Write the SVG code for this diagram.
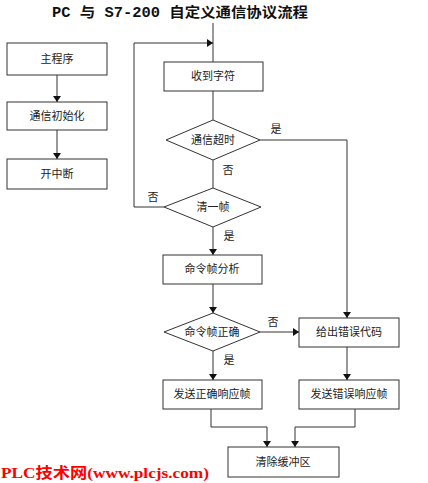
<svg xmlns="http://www.w3.org/2000/svg" width="428" height="483" viewBox="0 0 428 483">
<style>
.box{fill:#fff;stroke:#333;stroke-width:1}
.lbl{font-family:"Noto Sans CJK SC","Noto Sans",sans-serif;font-size:11px;fill:#222;text-anchor:middle}
.yn{font-family:"Noto Sans CJK SC","Noto Sans",sans-serif;font-size:11px;fill:#222;text-anchor:middle}
.ln{fill:none;stroke:#333;stroke-width:1}
</style>
<defs>
<marker id="ah" markerWidth="6" markerHeight="8" refX="6" refY="4" orient="auto" markerUnits="userSpaceOnUse">
<path d="M0,0 L6,4 L0,8 Z" fill="#111"/>
</marker>
</defs>
<rect width="428" height="483" fill="#fff"/>
<text x="52" y="17" textLength="256" lengthAdjust="spacingAndGlyphs" style="font-family:'Liberation Mono','Noto Sans CJK SC',monospace;font-size:14px;font-weight:bold;fill:#111">PC 与 S7-200 自定义通信协议流程</text>

<g id="connectors">
<path class="ln" d="M57,75 V102" marker-end="url(#ah)"/>
<path class="ln" d="M57,130 V159" marker-end="url(#ah)"/>
<path class="ln" d="M213,23 V62"/>
<path class="ln" d="M213,91 V120"/>
<path class="ln" d="M260,140 H347 V318" marker-end="url(#ah)"/>
<path class="ln" d="M213,160 V188"/>
<path class="ln" d="M164,207 H134 V43 H213" marker-end="url(#ah)"/>
<path class="ln" d="M213,227 V255" marker-end="url(#ah)"/>
<path class="ln" d="M213,284 V313" marker-end="url(#ah)"/>
<path class="ln" d="M260,332 H299" marker-end="url(#ah)"/>
<path class="ln" d="M213,351 V380" marker-end="url(#ah)"/>
<path class="ln" d="M347,347 V380" marker-end="url(#ah)"/>
<path class="ln" d="M211,409 V427 H267 V447" marker-end="url(#ah)"/>
<path class="ln" d="M355,409 V427 H295 V447" marker-end="url(#ah)"/>
<text class="yn" x="276" y="133">是</text>
<text class="yn" x="228" y="174">否</text>
<text class="yn" x="153" y="201">否</text>
<text class="yn" x="229" y="240">是</text>
<text class="yn" x="273" y="326">否</text>
<text class="yn" x="229" y="364">是</text>
</g>

<g id="main"><rect class="box" x="7" y="43" width="100" height="32"/><text class="lbl" x="57" y="63">主程序</text></g>
<g id="init"><rect class="box" x="7" y="102" width="100" height="28"/><text class="lbl" x="57" y="120">通信初始化</text></g>
<g id="int"><rect class="box" x="7" y="159" width="100" height="30"/><text class="lbl" x="57" y="178">开中断</text></g>

<g id="recv"><rect class="box" x="164" y="62" width="99" height="29"/><text class="lbl" x="213" y="80">收到字符</text></g>
<g id="timeout"><polygon class="box" points="213,120 260,140 213,160 166,140"/><text class="lbl" x="213" y="144">通信超时</text></g>
<g id="frame"><polygon class="box" points="213,188 261,207 213,227 164,207"/><text class="lbl" x="213" y="211">清一帧</text></g>
<g id="analyze"><rect class="box" x="163" y="255" width="99" height="29"/><text class="lbl" x="212" y="273">命令帧分析</text></g>
<g id="correct"><polygon class="box" points="213,313 260,332 213,351 164,332"/><text class="lbl" x="212" y="336">命令帧正确</text></g>
<g id="errcode"><rect class="box" x="299" y="318" width="100" height="29"/><text class="lbl" x="349" y="336">给出错误代码</text></g>
<g id="sendok"><rect class="box" x="163" y="380" width="99" height="29"/><text class="lbl" x="212" y="398">发送正确响应帧</text></g>
<g id="senderr"><rect class="box" x="299" y="380" width="100" height="29"/><text class="lbl" x="349" y="398">发送错误响应帧</text></g>
<g id="clear"><rect class="box" x="228" y="447" width="111" height="30"/><text class="lbl" x="283" y="466">清除缓冲区</text></g>

<text x="1" y="478" textLength="208" lengthAdjust="spacingAndGlyphs" style="font-family:'Liberation Serif','Noto Sans CJK SC',serif;font-size:15px;font-weight:bold;fill:#f00">PLC技术网(www.plcjs.com)</text>
</svg>
